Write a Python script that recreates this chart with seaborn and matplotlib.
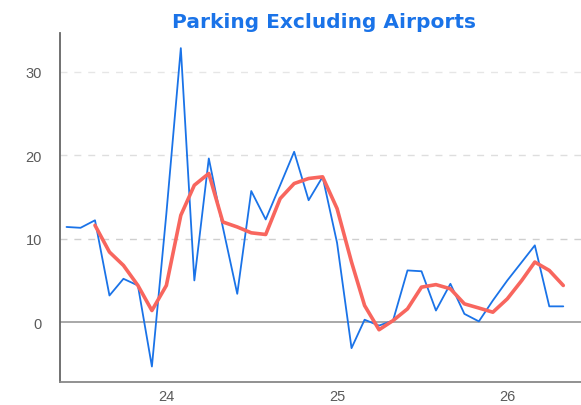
import matplotlib
matplotlib.use("Agg")
import matplotlib.dates as mdates
import matplotlib.pyplot as plt
import pandas as pd
import seaborn as sns

TITLE = "Parking Excluding Airports"

# monthly values, Jun 2023 .. May 2026
MONTH_START = "2023-06-01"
MONTHLY = [
    11.4, 11.3, 12.2, 3.2, 5.2, 4.4, -5.3,
    13.0, 32.8, 5.0, 19.6, 11.4, 3.4, 15.7, 12.3, 16.4, 20.4, 14.6, 17.4,
    9.5, -3.1, 0.3, -0.4, 0.2, 6.2, 6.1, 1.4, 4.6, 1.0, 0.1, 2.6,
    5.0, 7.2, 9.2, 1.9, 1.9,
]

# 3-month average line, Aug 2023 .. May 2026
AVG_START = "2023-08-01"
AVERAGE = [
    11.6, 8.4, 6.8, 4.4, 1.4,
    4.4, 12.8, 16.4, 17.8, 12.0, 11.4, 10.7, 10.5, 14.8, 16.6, 17.2, 17.4,
    13.6, 7.2, 2.0, -0.9, 0.2, 1.6, 4.2, 4.5, 4.0, 2.2, 1.7, 1.2,
    2.8, 5.0, 7.2, 6.2, 4.4,
]

Y_TICKS = [0, 10, 20, 30]

BLUE = "#1a73e8"
RED = "#f8665e"


def main() -> None:
    sns.set_style("white")
    plt.rcParams["font.family"] = ["Liberation Sans", "DejaVu Sans"]

    monthly = pd.DataFrame(
        {
            "month": pd.date_range(MONTH_START, periods=len(MONTHLY), freq="MS"),
            "value": MONTHLY,
        }
    )
    average = pd.DataFrame(
        {
            "month": pd.date_range(AVG_START, periods=len(AVERAGE), freq="MS"),
            "value": AVERAGE,
        }
    )

    fig = plt.figure(figsize=(5.81, 4.06), dpi=100)
    ax = fig.add_axes([0.1033, 0.0567, 0.8967, 0.8593])

    grid_colors = {10: "#cfcfcf", 20: "#dedede", 30: "#e6e6e6"}
    for y in Y_TICKS[1:]:
        ax.axhline(y, color=grid_colors[y], linestyle=(0, (5, 5)), linewidth=1.0, zorder=0)
    ax.axhline(0, color="#a8a8a8", linewidth=1.4, zorder=0)

    sns.lineplot(data=monthly, x="month", y="value", color=BLUE, linewidth=1.3, ax=ax)
    sns.lineplot(data=average, x="month", y="value", color=RED, linewidth=2.6, ax=ax)

    ax.set_xlim(pd.Timestamp("2023-05-18"), pd.Timestamp("2026-06-08"))
    ax.set_ylim(-7.15, 34.6)
    ax.set_yticks(Y_TICKS)
    ax.xaxis.set_major_locator(mdates.YearLocator())
    ax.xaxis.set_major_formatter(mdates.DateFormatter("%y"))

    ax.set_xlabel("")
    ax.set_ylabel("")
    ax.tick_params(axis="y", length=0, pad=13, labelsize=10.5, labelcolor="#5a5a5a")
    ax.tick_params(axis="x", direction="in", length=5, width=1, color="#666666",
                   pad=5, labelsize=10.5, labelcolor="#5a5a5a")

    for side in ["top", "right"]:
        ax.spines[side].set_visible(False)
    ax.spines["left"].set_color("#666666")
    ax.spines["left"].set_linewidth(1.3)
    ax.spines["bottom"].set_color("#888888")
    ax.spines["bottom"].set_linewidth(1.3)

    fig.text(0.557, 0.945, TITLE, ha="center", va="center", fontsize=14.5,
             fontweight="bold", color=BLUE, family=["DejaVu Sans"])

    fig.savefig("out.png", dpi=100)
    plt.close(fig)


if __name__ == "__main__":
    main()
